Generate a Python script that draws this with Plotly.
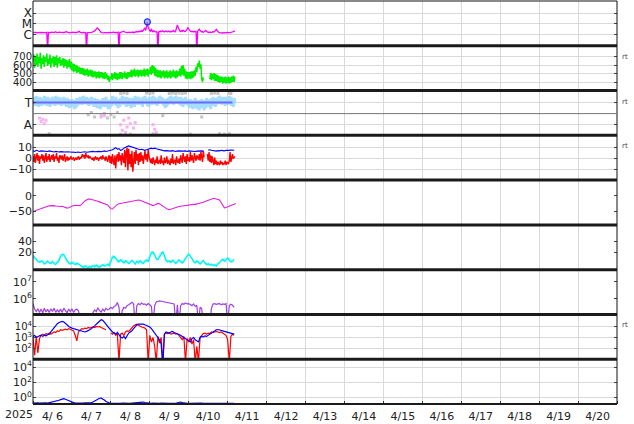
import pandas as pd
import plotly.graph_objects as go
from plotly.subplots import make_subplots

START = "2025-04-06 00:00"
END = "2025-04-21 00:00"

# ---------------- data ----------------
# Panel 1: X-ray flux, log10 W/m^2, 30-min samples
xray_log10 = [
-5.82,-5.78,-5.80,-5.76,-5.81,-5.79,-5.83,-5.78,-5.80,-5.77,-5.82,-5.76,
-5.80,-5.78,-5.83,-5.79,-5.81,-5.77,-7.5,-5.80,-5.78,-5.82,-5.79,-5.76,
-5.74,-5.78,-5.80,-5.76,-5.72,-5.77,-5.81,-5.79,-5.75,-5.78,-5.80,-5.77,
-5.79,-5.76,-5.81,-5.78,-5.74,-5.70,-5.76,-5.80,-5.78,-5.82,-5.79,-5.77,
-5.80,-5.78,-5.76,-5.79,-5.82,-5.78,-5.80,-5.77,-5.74,-5.68,-5.75,-5.79,
-5.81,-5.78,-5.80,-5.79,-5.82,-5.80,-7.5,-5.81,-5.79,-5.77,-5.78,-5.76,
-5.78,-5.76,-5.74,-5.70,-5.64,-5.56,-5.46,-5.38,-5.40,-5.50,-5.62,-5.72,
-5.78,-5.80,-5.77,-5.81,-5.79,-5.76,-5.80,-5.82,-5.78,-5.80,-5.77,-5.79,
-5.76,-5.80,-5.78,-5.74,-5.79,-5.77,-5.81,-5.78,-5.80,-5.76,-7.5,-5.79,
-5.77,-5.74,-5.78,-5.72,-5.66,-5.74,-5.79,-5.77,-5.80,-5.76,-5.78,-5.75,
-5.79,-5.76,-5.78,-5.74,-5.80,-5.77,-5.72,-5.75,-5.70,-5.74,-5.68,-5.72,
-5.66,-5.70,-5.62,-5.68,-5.58,-5.50,-5.36,-5.60,-5.20,-4.81,-5.30,-5.55,
-5.62,-5.70,-5.45,-5.65,-5.72,-5.62,-5.68,-5.74,-5.70,-5.76,-7.5,-5.74,
-5.70,-5.66,-5.72,-5.68,-5.62,-5.70,-5.74,-5.68,-5.65,-5.70,-5.72,-5.66,
-5.70,-5.74,-5.68,-5.72,-5.66,-5.60,-5.68,-5.72,-5.62,-5.40,-5.10,-5.30,
-5.55,-5.65,-5.70,-5.62,-5.68,-5.58,-5.64,-5.70,-5.66,-5.60,-5.50,-5.35,
-5.50,-5.62,-5.68,-5.72,-5.66,-5.70,-5.74,-5.68,-5.72,-5.70,-7.5,-5.66,
-5.55,-5.48,-5.60,-5.70,-5.74,-5.70,-5.76,-5.72,-5.66,-5.60,-5.68,-5.74,
-5.78,-5.75,-5.79,-5.76,-5.78,-5.74,-5.70,-5.76,-5.72,-5.62,-5.50,-5.64,
-5.74,-5.78,-5.80,-5.82,-5.79,-5.81,-5.83,-5.80,-5.82,-5.79,-5.81,-5.78,
-5.82,-5.80,-5.79,-5.81,-5.78,-5.76,-5.74,-5.72,-5.68,-5.64]
flare_times = ["2025-04-08 22:30"]
flare_log10 = [-4.81]

# Panel 2: solar wind speed km/s, 30-min samples
speed_kms = [
640,720,570,700,600,730,580,690,620,740,560,680,
610,710,580,690,640,730,590,670,610,720,570,680,
620,700,580,690,600,710,570,680,620,690,590,660,
600,680,570,670,590,660,560,650,580,670,560,640,
540,620,520,610,530,600,510,590,520,580,500,570,
500,570,490,560,480,550,490,560,470,540,480,550,
470,540,460,530,470,530,450,520,460,530,450,520,
460,520,450,510,440,520,450,500,430,480,410,470,
440,510,430,500,450,520,440,510,430,500,440,520,
450,520,440,510,460,530,450,510,440,520,460,520,
470,550,460,540,480,560,470,540,480,550,460,540,
480,550,470,540,480,560,470,550,490,560,470,550,
500,580,490,600,510,590,480,570,470,550,460,540,
460,540,450,530,470,540,450,530,460,540,450,520,
460,540,450,530,470,550,460,530,450,540,460,530,
480,560,470,590,490,600,480,560,450,530,440,520,
450,520,440,530,450,530,460,540,480,580,520,620,
580,650,560,610,440,410,460,None,None,None,None,None,
None,None,440,510,430,500,440,510,420,500,420,490,
410,480,400,470,410,470,390,460,400,470,390,460,
400,470,390,460,400,470,410,480,410,470]

# Panel 3: IMF sector (T = +1, A = -1), 30-min samples
sector_main = [
1.5,0.8,1.4,0.7,1.6,0.9,1.3,0.6,1.5,0.8,1.2,0.7,
1.4,0.9,1.6,0.8,1.3,0.7,1.5,1.0,1.4,0.6,1.3,0.8,
1.5,0.9,1.4,0.7,1.6,1.0,1.3,0.8,1.5,0.9,1.2,0.7,
1.4,0.8,1.5,0.9,1.3,0.6,1.4,0.8,1.2,0.5,1.3,0.7,
1.3,0.6,1.1,0.4,1.2,0.5,1.4,0.7,1.3,0.8,1.5,0.9,
1.4,0.8,1.6,1.0,1.4,0.9,1.5,0.8,1.3,0.7,1.4,0.9,
1.5,0.8,1.3,0.6,1.4,0.7,1.2,0.5,1.3,0.6,1.1,0.4,
1.2,0.6,1.4,0.8,1.3,0.6,1.5,0.9,1.2,0.4,1.1,0.5,
1.3,0.7,1.6,0.9,1.4,0.8,1.5,0.7,1.3,0.5,1.2,0.6,
1.4,0.8,1.6,1.0,1.5,0.8,1.3,0.6,1.5,0.9,1.4,0.7,
1.2,0.5,1.4,0.7,1.3,0.6,1.6,0.9,1.4,0.8,1.5,1.0,
1.4,0.8,1.3,0.6,1.5,0.9,1.6,1.0,1.4,0.7,1.3,0.6,
1.5,0.9,1.4,0.8,1.6,1.0,1.5,0.8,1.3,0.7,1.4,0.9,
1.6,1.0,1.5,0.9,1.4,0.7,1.3,0.5,1.2,0.6,1.4,0.8,
1.5,0.9,1.6,1.0,1.5,0.8,1.4,0.9,1.6,1.1,1.5,0.9,
1.4,0.8,1.5,0.7,1.3,0.6,1.4,0.8,1.5,0.9,1.3,0.7,
1.2,0.5,1.3,0.6,1.1,0.4,1.2,0.5,1.4,0.7,1.2,0.4,
1.1,0.3,1.2,0.5,1.3,0.6,1.0,0.3,1.2,0.5,1.4,0.8,
1.3,0.6,1.2,0.4,1.4,0.7,1.5,0.9,1.3,0.6,1.4,0.8,
1.5,0.9,1.6,1.0,1.4,0.8,1.5,0.9,1.3,0.7,1.5,1.0,
1.4,0.8,1.6,0.9,1.5,0.7,1.3,0.6,1.4,0.9]
sector_gray_hours = [54,56,58,70,72,74,84,86,88,90,92,94,110,112,114,121,122,
                     10,54,57,60,74,97,115,118,121,
                     34,36,38,42,44,46,48,50,52,80,104]
sector_gray_vals = [1.8,1.85,1.8,1.85,1.8,1.85,1.8,1.85,1.8,1.85,1.8,1.85,1.8,1.85,1.8,1.85,1.8,
                    -1.8,-1.85,-1.8,-1.85,-1.8,-1.85,-1.8,-1.85,-1.8,
                    -0.1,0.1,-0.3,-0.2,0.0,-0.4,-0.1,-0.3,0.1,-0.2,-0.3]
sector_pink_hours = [4,5,6,7,8,42,44,54,55,56,57,58,59,60,62,63,74,75,76]
sector_pink_vals = [-0.4,-0.7,-0.5,-0.9,-0.6,-0.3,-0.2,-1.0,-1.5,-0.6,-1.7,-1.2,-0.4,-0.9,-1.3,-0.8,-1.0,-1.4,-1.7]
sector_ref_times = ["2025-04-06 00:00", "2025-04-11 03:00"]
sector_ref_vals = [1, 1]

# Panel 4: IMF Bz (30-min) and Bt (hourly), nT
bz_nt = [
2,-3,4,-4,1,5,-2,3,-5,2,0,4,
-2,3,-4,1,5,-3,2,-1,4,-3,1,3,
-1,4,-3,2,0,5,-2,1,-4,3,2,-1,
3,-2,1,4,-3,0,2,-2,1,-1,0,2,
-1,0,1,-2,0,1,-1,0,2,-1,1,0,
2,4,1,3,0,5,2,1,3,0,2,1,
0,-1,1,-2,0,2,-1,1,0,-2,1,0,
2,-1,3,0,1,-2,2,0,-3,1,3,-4,
2,-5,4,-2,-6,3,-9,1,4,-3,6,-2,
3,-6,5,0,-4,8,-8,6,10,-11,9,-5,
4,-8,7,-12,3,6,-5,8,-2,4,-6,5,
-3,6,-2,3,-5,2,7,-1,4,-3,8,2,
-2,-4,0,-5,1,-3,-6,-1,-4,2,-5,-3,
-1,-5,3,-4,-2,-6,1,-4,-3,2,-5,-1,
-3,-6,0,-4,4,-5,-2,-1,-6,2,-3,-4,
0,-5,3,-2,-4,5,-1,-3,2,-5,4,-2,
1,-3,6,-2,3,-1,-4,5,0,-2,3,1,
-1,4,-2,6,2,-3,7,1,None,None,None,4,
-2,6,-3,3,-4,2,-2,-6,1,-5,-2,-6,
-3,-5,-6,-2,-5,-3,-6,-4,-5,-2,-6,-3,
-4,-5,-2,6,-3,2,4,0,1,2]
bt_nt = [
7,6.5,7.5,7,6.5,7,6.8,6.5,6.8,6.5,7,6.5,
6.5,6,6.5,6.2,6,6.3,6,5.8,6,6.2,5.8,6,
5.8,6,5.5,5.8,6,5.5,5.8,6,6.2,5.8,6,6.3,
6,6.5,6.2,6.5,6.8,6.5,6.2,6.8,7,6.5,6.8,7,
7.5,8,9,10,8.5,9,7.5,8,9.5,10.5,11,11.5,
11,10.5,10,9.5,9,8.5,8,8.5,8,7.5,8,8.5,
9,9.5,9,9.5,9,8.5,8,7.5,7.5,7,7.2,7,
7,6.8,7.2,7,6.5,7,6.8,7.2,7,6.8,7,6.5,
7,6.8,7.2,7,6.5,6.8,7,7.2,7,6.8,None,None,
7.5,8,7.5,7.2,7,6.8,7.2,7,7.5,7.2,7,7.5,
7.2,7.5,7.8,7.5,7.6]

# Panel 5: Dst index nT, hourly
dst_nt = [
-51,-49,-46,-44,-42,-40,-38,-37,-35,-34,-33,-32,
-31,-32,-33,-34,-35,-35,-34,-36,-38,-40,-39,-36,
-33,-32,-31,-32,-33,-32,-28,-22,-17,-14,-11,-11,
-12,-13,-15,-17,-18,-20,-22,-24,-25,-27,-30,-36,
-42,-43,-38,-32,-28,-26,-25,-24,-22,-21,-20,-19,
-18,-17,-16,-15,-14,-14,-15,-17,-19,-21,-23,-25,
-27,-30,-32,-30,-27,-25,-26,-30,-34,-38,-41,-44,
-45,-43,-41,-39,-37,-36,-35,-34,-33,-32,-33,-32,
-31,-30,-29,-28,-28,-27,-26,-25,-23,-21,-19,-17,
-14,-12,-10,-9,-9,-10,-12,-14,-22,-32,-39,-38,
-36,-34,-32,-30,-27,-25]

# Panel 6: two cyan series, hourly
cyan_a = [
14,10,6,3,1,4,2,-2,0,3,1,-1,
2,0,-3,1,4,12,16,15,10,3,0,-2,
1,-1,-3,0,-2,-5,-6,-8,-5,-7,-9,-6,
-8,-5,-7,-4,-6,-8,-5,-3,-6,-4,-2,-5,
3,10,12,8,5,2,6,3,0,4,1,-1,
2,5,1,-2,3,0,4,1,-1,3,6,2,
10,18,20,14,8,6,12,16,21,14,5,2,
4,1,5,2,-1,3,6,2,0,4,8,12,
16,13,7,3,0,4,1,-2,2,5,0,-3,
-1,-4,-2,-5,-3,-6,-2,1,4,7,3,6,
9,5,2,4,7]
cyan_b = [
11,7,8,2,5,1,4,0,3,5,-1,2,
4,-2,1,3,7,14,12,17,6,1,3,0,
-2,2,-1,-4,0,-3,-8,-5,-9,-4,-6,-8,
-4,-7,-3,-6,-8,-4,-7,-5,-2,-6,-4,0,
6,14,8,11,2,5,3,7,2,0,5,2,
0,3,4,-1,1,5,2,-2,2,5,3,7,
14,22,16,18,5,10,15,20,17,9,3,6,
1,5,2,6,1,0,4,5,3,1,11,15,
18,10,9,1,3,1,4,0,-1,3,2,-1,
-4,-2,-5,-3,-6,-4,0,-1,6,4,8,3,
6,9,4,1,5]

# Panel 7: electron flux, log10, hourly
electron_log10 = [
5.72,5.4,5.25,5.42,5.2,5.4,5.18,5.45,5.22,5.38,5.2,5.42,
5.25,5.45,5.2,5.35,5.22,5.4,5.2,5.45,5.3,5.18,5.4,5.25,
5.42,5.2,5.35,5.4,5.3,4.5,4.5,4.5,4.5,4.5,4.5,4.5,
4.5,5.2,5.35,5.25,5.48,5.3,5.22,5.4,5.28,5.45,5.35,5.4,
5.5,5.42,5.55,5.6,5.78,5.5,4.5,5.3,5.5,5.45,5.6,5.65,
5.75,5.8,5.7,4.5,5.6,5.72,5.65,5.75,5.68,5.7,5.62,5.72,
5.65,5.55,4.5,5.6,5.82,5.85,5.88,5.86,5.84,5.82,5.8,5.78,
5.8,5.76,5.75,5.7,4.5,5.65,4.5,5.6,5.72,5.68,5.75,5.7,
5.72,5.65,5.6,5.7,5.55,5.62,4.5,5.5,5.42,4.5,4.5,4.5,
4.5,4.5,5.45,5.7,5.72,5.68,5.7,5.72,5.65,5.7,5.68,5.72,
4.5,5.6,5.68,5.62,5.5]
electron_thresholds = [6, 7]

# Panel 8: two flux series, log10, hourly
flux_blue_log10 = [
3.1,3.2,3.0,3.1,3.15,3.2,3.1,3.2,3.15,3.25,3.3,3.5,
3.7,3.9,4.1,4.25,4.35,4.42,4.45,4.4,4.3,4.15,4.0,3.9,
3.85,3.8,3.75,3.7,3.65,3.6,3.6,3.55,3.5,3.55,3.6,3.7,
3.8,3.9,4.05,4.2,4.35,4.5,4.6,4.55,4.4,4.2,4.0,3.8,
3.6,3.5,3.4,3.3,3.45,3.2,3.05,2.95,3.1,2.9,3.2,3.4,
3.5,3.6,3.8,4.0,4.15,4.2,4.22,4.18,4.2,4.15,4.1,4.05,
3.95,3.8,3.6,3.4,3.2,3.0,2.8,2.4,0.5,3.3,3.5,3.45,
3.4,3.5,3.55,3.45,3.4,3.35,3.3,3.2,3.1,3.0,2.9,2.8,
2.7,2.6,2.9,3.0,2.8,2.7,2.6,3.0,3.1,3.05,3.15,3.1,
3.2,3.3,3.4,3.55,3.65,3.7,3.72,3.7,3.65,3.6,3.55,3.5,
3.45,3.4,3.35,3.3,3.3]
flux_red_log10 = [
3.0,1.4,3.1,1.6,2.9,3.2,3.3,3.2,3.35,3.3,3.4,3.3,
3.4,3.5,3.45,3.6,3.55,3.7,3.65,3.7,3.75,3.7,3.8,3.75,
3.7,3.6,3.2,2.7,3.5,3.7,3.8,3.75,3.85,3.8,3.9,3.85,
3.9,3.95,3.9,4.0,3.95,4.0,3.9,3.85,3.8,3.7,None,None,
3.4,3.3,3.45,3.2,3.35,0.8,3.3,3.4,3.2,3.5,3.6,3.55,
3.7,3.9,4.05,4.15,4.2,4.1,4.0,3.95,3.9,3.85,3.7,0.8,
3.2,2.6,3.0,2.2,0.8,3.1,2.5,3.0,0.8,3.3,3.4,3.35,
3.4,3.3,3.35,3.4,3.3,3.35,3.2,3.0,2.8,3.1,0.8,2.9,
2.6,3.0,2.4,2.8,0.8,2.2,0.8,3.0,3.2,3.35,3.4,3.3,
3.4,3.35,3.5,3.45,3.5,3.55,3.5,3.45,3.5,3.4,3.3,3.2,
2.8,0.8,3.1,3.3,3.2]
flux_threshold = 4

# Panel 9: flux, log10, hourly
flux9_log10 = [
-0.75,-0.72,-0.78,-0.74,-0.76,-0.73,-0.77,-0.74,-0.72,-0.75,-0.7,-0.72,
-0.68,-0.62,-0.55,-0.45,-0.38,-0.3,-0.22,-0.18,-0.25,-0.35,-0.48,-0.6,
-0.66,-0.7,-0.73,-0.75,-0.74,-0.76,-0.73,-0.75,-0.72,-0.74,-0.76,-0.73,
-0.7,-0.62,-0.5,-0.35,-0.2,-0.12,-0.1,-0.18,-0.35,-0.55,-0.68,-0.72,
-0.75,-0.77,-0.76,-0.78,-0.75,-0.77,-0.79,-0.76,-0.78,-0.77,-0.79,-0.76,
-0.78,-0.76,-0.74,-0.72,-0.7,-0.65,-0.6,-0.58,-0.62,-0.68,-0.72,-0.75,
-0.77,-0.78,-0.76,-0.79,-0.77,-0.78,-0.8,-0.77,-0.79,-0.78,-0.8,-0.77,
-0.79,-0.78,-0.8,-0.77,-0.78,-0.74,-0.68,-0.62,-0.7,-0.76,-0.78,-0.8,
-0.79,-0.78,-0.8,-0.77,-0.79,-0.78,-0.8,-0.79,-0.77,-0.8,-0.78,-0.79,
-0.8,-0.78,-0.79,-0.8,-0.77,-0.79,-0.8,-0.78,-0.79,-0.8,-0.78,-0.79,
-0.8,-0.78,-0.79,-0.8,-0.78]

# ---------------- figure ----------------
FONT = "DejaVu Sans"
GRID = "#d9d9d9"


def t30(n):
    return pd.date_range(START, periods=n, freq="30min")


def t60(n):
    return pd.date_range(START, periods=n, freq="60min")


def hours(hs):
    return pd.Timestamp(START) + pd.to_timedelta(hs, unit="h")


fig = make_subplots(rows=9, cols=1, shared_xaxes=True, vertical_spacing=0)

def line(x, y, color, width, row, **kw):
    fig.add_trace(go.Scatter(x=x, y=y, mode="lines", line=dict(color=color, width=width),
                             connectgaps=False, showlegend=False, hoverinfo="skip", **kw), row=row, col=1)

# 1 X-ray
line(t30(len(xray_log10)), xray_log10, "#ff00ff", 1.3, 1)
fig.add_trace(go.Scatter(x=flare_times, y=flare_log10, mode="markers",
                         marker=dict(symbol="circle", size=6, color="rgba(120,150,255,0.6)",
                                     line=dict(color="#2030ff", width=1.2)),
                         showlegend=False, hoverinfo="skip"), row=1, col=1)
# 2 speed
line(t30(len(speed_kms)), speed_kms, "#00ee00", 1.5, 2)
# 3 sector
fig.add_trace(go.Scatter(x=hours(sector_gray_hours), y=sector_gray_vals, mode="markers",
                         marker=dict(symbol="square", size=3, color="#c4c4c4"),
                         showlegend=False, hoverinfo="skip"), row=3, col=1)
line(t30(len(sector_main)), sector_main, "rgba(150,215,255,0.85)", 3, 3)
fig.add_trace(go.Scatter(x=hours(sector_pink_hours), y=sector_pink_vals, mode="markers",
                         marker=dict(symbol="square", size=3, color="#f7b0f0"),
                         showlegend=False, hoverinfo="skip"), row=3, col=1)
line(sector_ref_times, sector_ref_vals, "#6a6aff", 1.8, 3)
# 4 IMF
fig.add_hline(y=0, line=dict(color="#b00000", width=1.5), row=4, col=1)
line(t30(len(bz_nt)), bz_nt, "#ff0000", 1.4, 4)
line(t60(len(bt_nt)), bt_nt, "#0000ff", 1.1, 4)
# 5 Dst
fig.add_hline(y=0, line=dict(color="#d87070", width=2), row=5, col=1)
line(t60(len(dst_nt)), dst_nt, "#e020e0", 1.1, 5)
# 6 cyan
line(t60(len(cyan_b)), cyan_b, "#80ffff", 1.1, 6)
line(t60(len(cyan_a)), cyan_a, "#00f0f0", 1.3, 6)
# 7 electrons
for th in electron_thresholds:
    fig.add_hline(y=th, line=dict(color="#cc0000", width=1.2), row=7, col=1)
line(t60(len(electron_log10)), electron_log10, "#a040e0", 1.2, 7)
# 8 flux
fig.add_hline(y=flux_threshold, line=dict(color="#dd3333", width=1.5, dash="dash"), row=8, col=1)
line(t60(len(flux_red_log10)), flux_red_log10, "#ff0000", 1.2, 8)
line(t60(len(flux_blue_log10)), flux_blue_log10, "#0000ff", 1.2, 8)
# 9 flux
line(t60(len(flux9_log10)), flux9_log10, "#0000ff", 1.2, 9)

# ---------------- axes ----------------
tickfont = dict(family=FONT, size=11, color="#222")
smallfont = dict(family=FONT, size=10, color="#222")
fig.update_xaxes(range=[START, END], dtick=86400000, tick0=START, showgrid=True,
                 gridcolor=GRID, gridwidth=1, zeroline=False, showticklabels=False,
                 ticks="", showline=False)
fig.update_xaxes(row=9, col=1, showticklabels=True, tickformat="%-m/%e",
                 ticklabelmode="period", ticks="inside", ticklen=3, tickcolor="#333",
                 tickfont=tickfont, ticklabelstandoff=4)

sup = lambda n: "10<sup>%d</sup>" % n
yspec = {
    1: dict(range=[-7, -2.9], tickvals=[-6, -5, -4], ticktext=["C", "M", "X"], showgrid=True,
            tickfont=dict(family=FONT, size=12, color="#222")),
    2: dict(range=[312, 818], tickvals=[400, 500, 600, 700], showgrid=True, tickfont=smallfont),
    3: dict(range=[-1.95, 2.07], tickvals=[1, -1], ticktext=["T", "A"], showgrid=True,
            tickfont=dict(family=FONT, size=12, color="#222")),
    4: dict(range=[-19.7, 21.2], tickvals=[-10, 0, 10], showgrid=True, tickfont=tickfont),
    5: dict(range=[-94, 50], tickvals=[-50, 0], showgrid=False, tickfont=tickfont),
    6: dict(range=[-12.2, 69.6], tickvals=[20, 40], showgrid=False, tickfont=tickfont),
    7: dict(range=[5.08, 7.72], tickvals=[6, 7], ticktext=[sup(6), sup(7)], showgrid=False, tickfont=tickfont),
    8: dict(range=[1.04, 5.08], tickvals=[2, 3, 4], ticktext=[sup(2), sup(3), sup(4)], showgrid=True, tickfont=smallfont),
    9: dict(range=[-0.88, 5.06], tickvals=[0, 2, 4], ticktext=[sup(0), sup(2), sup(4)], showgrid=True, tickfont=tickfont),
}
for r, spec in yspec.items():
    fig.update_yaxes(row=r, col=1, tickmode="array", zeroline=False, gridcolor=GRID,
                     gridwidth=1, ticks="inside", ticklen=3,
                     tickcolor="#444", mirror="ticks", showline=False, fixedrange=True, **spec)

# ---------------- frame and separators ----------------
shapes = [dict(type="rect", xref="paper", yref="paper", x0=0, x1=1, y0=0, y1=1,
               line=dict(color="#111", width=1))]
for k in range(1, 9):
    shapes.append(dict(type="line", xref="paper", yref="paper", x0=0, x1=1, y0=k / 9, y1=k / 9,
                       line=dict(color="#1a1a1a", width=3)))
shapes.append(dict(type="line", xref="paper", yref="paper", x0=0, x1=1, y0=0, y1=0,
                   line=dict(color="#1a1a1a", width=2)))
# sector divider
shapes.append(dict(type="line", xref="x3 domain", yref="y3", x0=0, x1=1, y0=0, y1=0,
                   line=dict(color="#777", width=1)))
for s in shapes:
    fig.add_shape(**s)

annotations = [dict(text="2025", xref="paper", yref="paper", x=-0.024, y=-0.026,
                    xanchor="center", yanchor="middle",
                    showarrow=False, font=dict(family=FONT, size=11, color="#222"))]
for r in [2, 3, 4, 8]:
    ypix_from_top = 11 + 45 * (r - 1)
    annotations.append(dict(text="rt", xref="paper", yref="paper", x=1.0, xanchor="left",
                            xshift=3, y=1 - ypix_from_top / 405, yanchor="middle", showarrow=False,
                            font=dict(family=FONT, size=7, color="#444")))
for a in annotations:
    fig.add_annotation(**a)

fig.update_layout(width=634, height=424, margin=dict(l=33, r=17, t=1, b=18),
                  paper_bgcolor="white", plot_bgcolor="white", showlegend=False,
                  font=dict(family=FONT, size=11, color="#222"))

fig.write_html("out.html", config={"displayModeBar": False},
               post_script="document.body.style.margin='0';document.body.style.overflow='hidden';")
